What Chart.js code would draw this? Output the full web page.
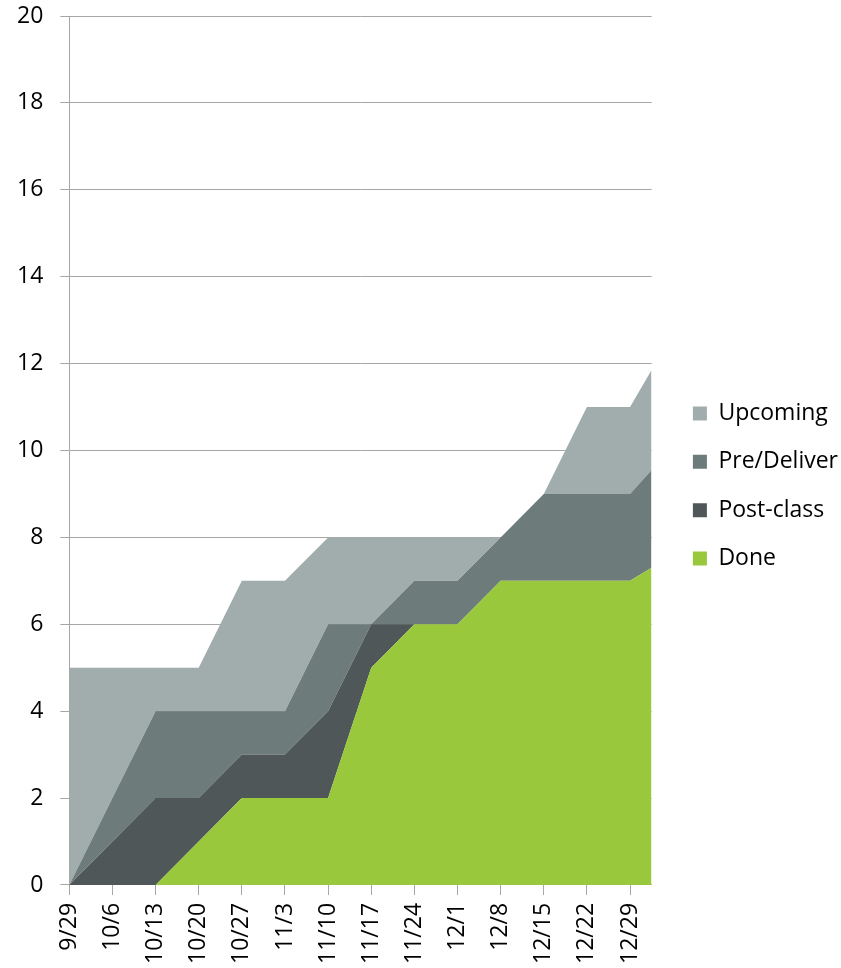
<!DOCTYPE html>
<html>
<head>
<meta charset="utf-8">
<script src="https://cdn.jsdelivr.net/npm/chart.js@4"></script>
<style>
  html, body { margin: 0; padding: 0; background: #fff; }
  #wrap { width: 841px; height: 968px; position: relative; }
</style>
</head>
<body>
<div id="wrap"><canvas id="progressChart"></canvas></div>
<script>
// days since 9/29; the last entry is the partial week at the right edge
const dayOffsets = [0, 7, 14, 21, 28, 35, 42, 49, 56, 63, 70, 77, 84, 91, 94.5];
const weekLabels = ['9/29', '10/6', '10/13', '10/20', '10/27', '11/3', '11/10',
    '11/17', '11/24', '12/1', '12/8', '12/15', '12/22', '12/29'];
const yTicks = [0, 2, 4, 6, 8, 10, 12, 14, 16, 18, 20];

const done       = [0, 0, 0, 1, 2, 2, 2, 5, 6, 6, 7, 7, 7, 7, 7.3];
const postClass  = [0, 1, 2, 1, 1, 1, 2, 1, 0, 0, 0, 0, 0, 0, 0];
const preDeliver = [0, 1, 2, 2, 1, 1, 2, 0, 1, 1, 1, 2, 2, 2, 2.25];
const upcoming   = [5, 3, 1, 1, 3, 3, 2, 2, 1, 1, 0, 0, 2, 2, 2.3];

const FONT = { family: "'Open Sans', sans-serif", size: 23 };
const GRID = '#a6a6a6';

function series(label, values, color, fill) {
    return {
        label,
        data: values.map((v, i) => ({ x: dayOffsets[i], y: v })),
        backgroundColor: color,
        borderColor: color,
        borderWidth: 0,
        pointRadius: 0,
        tension: 0,
        fill
    };
}

// leave some air between the plot and the legend
const legendShift = {
    id: 'legendShift',
    afterLayout(chart) {
        chart.legend.left += 16;
        chart.legend.right += 16;
    }
};

(function () {
    const el = document.getElementById('progressChart');

    new Chart(el, {
        type: 'line',
        data: {
            datasets: [
                series('Done', done, '#99c83c', 'origin'),
                series('Post-class', postClass, '#4f5759', '-1'),
                series('Pre/Deliver', preDeliver, '#6d7b7b', '-1'),
                series('Upcoming', upcoming, '#a1adac', '-1')
            ]
        },
        plugins: [legendShift],
        options: {
            responsive: true,
            maintainAspectRatio: false,
            animation: false,
            layout: { padding: { left: 0, top: 0, right: 9, bottom: -4 } },
            plugins: {
                legend: {
                    position: 'right',
                    reverse: true,
                    labels: {
                        font: FONT,
                        color: '#000',
                        boxWidth: 14,
                        boxHeight: 14,
                        padding: 25.3
                    }
                },
                tooltip: { enabled: false }
            },
            scales: {
                x: {
                    type: 'linear',
                    min: 0,
                    max: dayOffsets[dayOffsets.length - 1],
                    afterBuildTicks: axis => {
                        axis.ticks = weekLabels.map((_, i) => ({ value: dayOffsets[i] }));
                    },
                    grid: { drawOnChartArea: false, drawTicks: true, tickLength: 10, color: GRID },
                    border: { color: GRID },
                    ticks: {
                        autoSkip: false,
                        minRotation: 90,
                        maxRotation: 90,
                        padding: 8,
                        color: '#000',
                        font: FONT,
                        callback: (v, i) => weekLabels[i]
                    }
                },
                y: {
                    stacked: true,
                    min: 0,
                    max: 20,
                    afterBuildTicks: axis => {
                        axis.ticks = yTicks.map(v => ({ value: v }));
                    },
                    // only half a label of room is needed above the top tick
                    afterFit: axis => {
                        axis.paddingTop = 16;
                    },
                    grid: { color: GRID, tickLength: 9 },
                    border: { color: GRID },
                    ticks: { padding: 17, color: '#000', font: FONT }
                }
            }
        }
    });
})();
</script>
</body>
</html>
